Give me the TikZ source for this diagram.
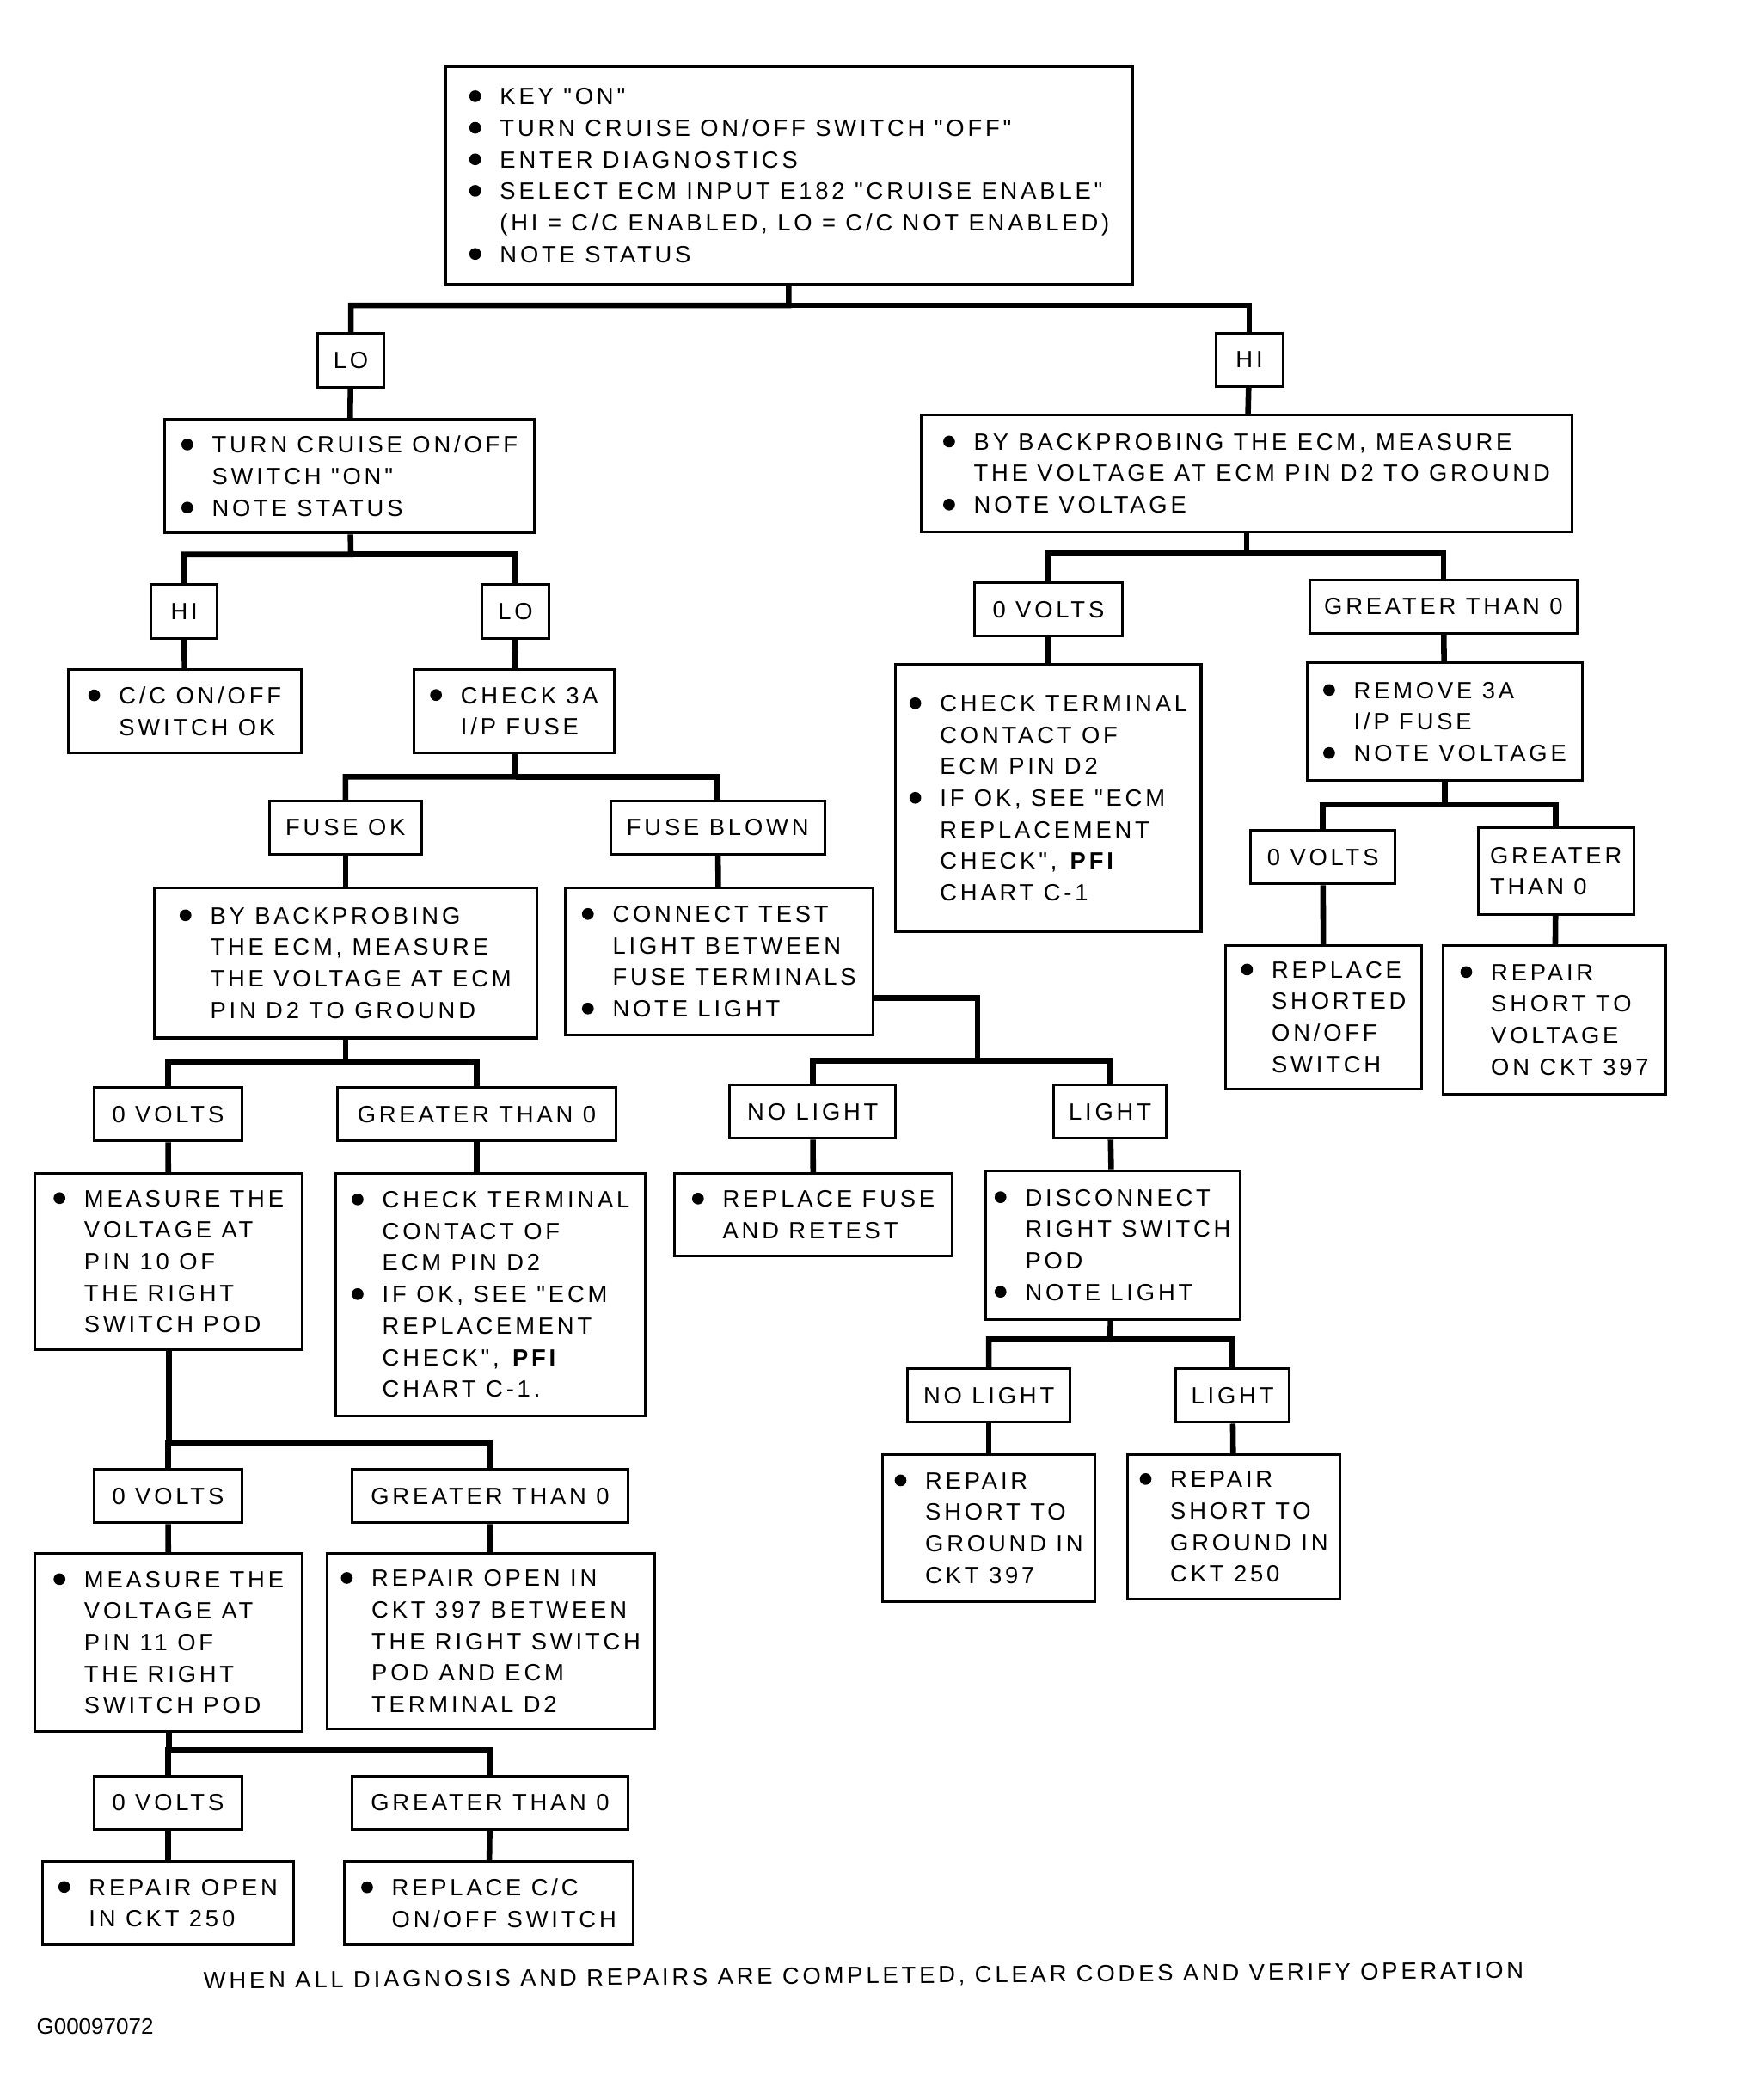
\documentclass[tikz,border=0pt]{standalone}
\usepackage{fontspec}
\setmainfont{Liberation Sans}[LetterSpace=14, Ligatures=TeXOff]
\newfontfamily\idfont{Liberation Sans}
\newlength\px
\setlength\px{0.2mm}
\newcommand\bl{\makebox[1.3em][l]{\tikz[baseline=-3.6pt]\fill (0,0) circle (2.5pt);}}
\newcommand\ind{\hspace*{1.3em}}

\begin{document}
\begin{tikzpicture}[x=0.2mm, y=-0.2mm,
act/.style = {draw, rectangle, line width=1.1pt, align=left, inner sep=0pt, font=\fontsize{10}{13.4}\selectfont},
res/.style = {draw, rectangle, line width=1.1pt, align=left, inner sep=0pt, minimum height=40\px, font=\fontsize{10}{13.4}\selectfont},
link/.style = {line width=2.4pt}]

    \useasboundingbox (0,0) rectangle (1300,1568);

    \node[act, minimum width=513\px, minimum height=162\px](1) at (589.5,131) {\bl KEY "ON"\\ \bl TURN CRUISE ON/OFF SWITCH "OFF"\\ \bl ENTER DIAGNOSTICS\\ \bl SELECT ECM INPUT E182 "CRUISE ENABLE"\\ \ind (HI = C/C ENABLED, LO = C/C NOT ENABLED)\\ \bl NOTE STATUS};

    \node[res, minimum width=50\px](2) at (262,269) {LO};
    \node[res, minimum width=50\px](3) at (933,268.5) {HI};

    % LO side
    \node[act, minimum width=276\px, minimum height=85\px](4) at (261,355.5) {\bl TURN CRUISE ON/OFF\\ \ind SWITCH "ON"\\ \bl NOTE STATUS};
    \node[res, minimum width=49\px](6) at (137.5,456.5) {HI};
    \node[res, minimum width=50\px](7) at (385,456.5) {LO};
    \node[act, minimum width=174\px, minimum height=62\px](8) at (138,531) {\bl C/C ON/OFF\\ \ind SWITCH OK};
    \node[act, minimum width=150\px, minimum height=62\px](9) at (384,531) {\bl CHECK 3A\\ \ind I/P FUSE};

    \node[res, minimum width=114\px](10) at (258,618) {FUSE OK};
    \node[res, minimum width=160\px](11) at (536,618) {FUSE BLOWN};
    \node[act, minimum width=286\px, minimum height=112\px](12) at (258,719) {\bl BY BACKPROBING\\ \ind THE ECM, MEASURE\\ \ind THE VOLTAGE AT ECM\\ \ind PIN D2 TO GROUND};
    \node[act, minimum width=230\px, minimum height=110\px](13) at (537,718) {\bl CONNECT TEST\\ \ind LIGHT BETWEEN\\ \ind FUSE TERMINALS\\ \bl NOTE LIGHT};

    \node[res, minimum width=111\px](14) at (125.5,832) {0 VOLTS};
    \node[res, minimum width=208\px](15) at (356,832) {GREATER THAN 0};
    \node[res, minimum width=124\px](16) at (607,830) {NO LIGHT};
    \node[res, minimum width=84\px](17) at (829,830) {LIGHT};

    \node[act, minimum width=200\px, minimum height=132\px](18) at (126,942) {\bl MEASURE THE\\ \ind VOLTAGE AT\\ \ind PIN 10 OF\\ \ind THE RIGHT\\ \ind SWITCH POD};
    \node[act, minimum width=231\px, minimum height=181\px](19) at (366.5,966.5) {\bl CHECK TERMINAL\\ \ind CONTACT OF\\ \ind ECM PIN D2\\ \bl IF OK, SEE "ECM\\ \ind REPLACEMENT\\ \ind CHECK", \textbf{PFI}\\ \ind CHART C-1.};
    \node[act, minimum width=207\px, minimum height=62\px](20) at (607.5,907) {\bl REPLACE FUSE\\ \ind AND RETEST};
    \node[act, minimum width=190\px, minimum height=111\px](21) at (831,929.5) {\bl DISCONNECT\\ \ind RIGHT SWITCH\\ \ind POD\\ \bl NOTE LIGHT};

    \node[res, minimum width=111\px](22) at (125.5,1117) {0 VOLTS};
    \node[res, minimum width=206\px](23) at (366,1117) {GREATER THAN 0};
    \node[res, minimum width=121\px](24) at (738.5,1042) {NO LIGHT};
    \node[res, minimum width=85\px](25) at (920.5,1042) {LIGHT};

    \node[act, minimum width=159\px, minimum height=110\px](26) at (738.5,1141) {\bl REPAIR\\ \ind SHORT TO\\ \ind GROUND IN\\ \ind CKT 397};
    \node[act, minimum width=159\px, minimum height=108\px](27) at (921.5,1140) {\bl REPAIR\\ \ind SHORT TO\\ \ind GROUND IN\\ \ind CKT 250};
    \node[act, minimum width=200\px, minimum height=133\px](28) at (126,1226.5) {\bl MEASURE THE\\ \ind VOLTAGE AT\\ \ind PIN 11 OF\\ \ind THE RIGHT\\ \ind SWITCH POD};
    \node[act, minimum width=245\px, minimum height=131\px](29) at (366.5,1225.5) {\bl REPAIR OPEN IN\\ \ind CKT 397 BETWEEN\\ \ind THE RIGHT SWITCH\\ \ind POD AND ECM\\ \ind TERMINAL D2};

    \node[res, minimum width=111\px](30) at (125.5,1346) {0 VOLTS};
    \node[res, minimum width=206\px](31) at (366,1346) {GREATER THAN 0};
    \node[act, minimum width=187\px, minimum height=62\px](32) at (125.5,1421) {\bl REPAIR OPEN\\ \ind IN CKT 250};
    \node[act, minimum width=216\px, minimum height=62\px](33) at (365,1421) {\bl REPLACE C/C\\ \ind ON/OFF SWITCH};

    % HI side
    \node[act, minimum width=486\px, minimum height=87\px](5) at (931,353.5) {\bl BY BACKPROBING THE ECM, MEASURE\\ \ind THE VOLTAGE AT ECM PIN D2 TO GROUND\\ \bl NOTE VOLTAGE};
    \node[res, minimum width=110\px](34) at (783,455) {0 VOLTS};
    \node[res, minimum width=200\px](35) at (1078,453) {GREATER THAN 0};
    \node[act, minimum width=228\px, minimum height=200\px](36) at (783,596) {\bl CHECK TERMINAL\\ \ind CONTACT OF\\ \ind ECM PIN D2\\ \bl IF OK, SEE "ECM\\ \ind REPLACEMENT\\ \ind CHECK", \textbf{PFI}\\ \ind CHART C-1};
    \node[act, minimum width=206\px, minimum height=88\px](37) at (1079,539) {\bl REMOVE 3A\\ \ind I/P FUSE\\ \bl NOTE VOLTAGE};
    \node[res, minimum width=108\px](38) at (988,640) {0 VOLTS};
    \node[res, minimum width=116\px, minimum height=65\px](39) at (1162,650.5) {GREATER\\THAN 0};
    \node[act, minimum width=147\px, minimum height=107\px](40) at (988.5,759.5) {\bl REPLACE\\ \ind SHORTED\\ \ind ON/OFF\\ \ind SWITCH};
    \node[act, minimum width=166\px, minimum height=111\px](41) at (1161,761.5) {\bl REPAIR\\ \ind SHORT TO\\ \ind VOLTAGE\\ \ind ON CKT 397};

    \node[font=\fontsize{10}{12}\selectfont, rotate=0.45](42) at (645,1476) {WHEN ALL DIAGNOSIS AND REPAIRS ARE COMPLETED, CLEAR CODES AND VERIFY OPERATION};
    \node[anchor=west, inner sep=0pt, font=\idfont\fontsize{9.5}{11}\selectfont](43) at (27,1513) {G00097072};

    % branch points
    \coordinate (j1) at (589,228);
    \coordinate (j4) at (262,414);
    \coordinate (j9) at (385,580);
    \coordinate (j12) at (258,793);
    \coordinate (j13) at (730,792);
    \coordinate (j18) at (126,1077);
    \coordinate (j21) at (829,1000);
    \coordinate (j28) at (126,1307);
    \coordinate (j5) at (931,413);
    \coordinate (j37) at (1079,601);

    \draw [link] (1) -- (j1) -| (2);
    \draw [link] (j1) -| (3);
    \draw [link] (2) -- (4);
    \draw [link] (3) -- (5);

    \draw [link] (4) -- (j4) -| (6);
    \draw [link] (j4) -| (7);
    \draw [link] (6) -- (8);
    \draw [link] (7) -- (9);

    \draw [link] (9) -- (j9) -| (10);
    \draw [link] (j9) -| (11);
    \draw [link] (10) -- (12);
    \draw [link] (11) -- (13);

    \draw [link] (12) -- (j12) -| (14);
    \draw [link] (j12) -| (15);
    \draw [link] ([yshift=-5.4mm]13.east) -| (j13) -| (16);
    \draw [link] (j13) -| (17);
    \draw [link] (14) -- (18);
    \draw [link] (15) -- (15 |- 19.north);
    \draw [link] (16) -- (20);
    \draw [link] (17) -- (21);

    \draw [link] (18) -- (j18) -| (22);
    \draw [link] (j18) -| (23);
    \draw [link] (21) -- (j21) -| (24);
    \draw [link] (j21) -| (25);
    \draw [link] (22) -- (28);
    \draw [link] (23) -- (29);
    \draw [link] (24) -- (26);
    \draw [link] (25) -- (27);

    \draw [link] (28) -- (j28) -| (30);
    \draw [link] (j28) -| (31);
    \draw [link] (30) -- (32);
    \draw [link] (31) -- (33);

    \draw [link] (5) -- (j5) -| (34);
    \draw [link] (j5) -| (35);
    \draw [link] (34) -- (36);
    \draw [link] (35) -- (37);
    \draw [link] (37) -- (j37) -| (38);
    \draw [link] (j37) -| (39);
    \draw [link] (38) -- (40);
    \draw [link] (39) -- (41);

\end{tikzpicture}
\end{document}
